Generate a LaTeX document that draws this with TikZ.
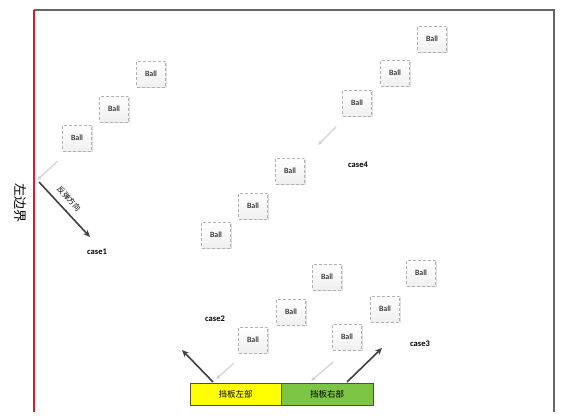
\documentclass[tikz,border=0pt]{standalone}
\usepackage{fontspec}
\setmainfont{Carlito}
\newfontfamily\cjk{Noto Sans CJK SC}
\usetikzlibrary{arrows.meta,shadows}
\definecolor{darkarrow}{HTML}{404040}
\definecolor{framegray}{HTML}{666666}
\definecolor{borderred}{HTML}{D42020}
\definecolor{boardyellow}{HTML}{FFFF00}
\definecolor{boardgreen}{HTML}{7CC444}
\tikzset{
  ball/.style={draw=gray!60, densely dashed, line width=0.5pt, top color=white, bottom color=gray!12,
    minimum width=29pt, minimum height=26pt, inner sep=0pt, font=\fontsize{8}{9}\selectfont,
    drop shadow={shadow xshift=1pt, shadow yshift=-1pt, opacity=0.25}},
  caselabel/.style={font=\bfseries\fontsize{8.5}{10}\selectfont},
  bounce/.style={draw=darkarrow, line width=1.6pt, -{Stealth[length=7pt,width=6pt]}},
  incoming/.style={draw=gray!35, line width=1.2pt, -{Stealth[length=5pt,width=4pt,fill=gray!70]}},
  board/.style={draw=gray!60!black, line width=0.5pt, minimum height=22pt, inner sep=0pt,
    font=\cjk\fontsize{8.5}{10}\selectfont}
}
\begin{document}
\begin{tikzpicture}[x=1pt,y=-1pt]
\useasboundingbox (0,0) rectangle (567,419);
% frame
\coordinate (tl) at (34,10);
\coordinate (tr) at (554,10);
\coordinate (br) at (554,412);
\coordinate (bl) at (34,412);
\draw[framegray, line width=1.4pt] (tl) -- (tr) -- (br);
\draw[borderred, line width=1.6pt] (tl) -- (bl);
\node[font=\cjk\fontsize{13}{14}\selectfont, rotate=-90] (lb) at (20,203) {左边界};

% case1
\node[ball] (b11) at (151,74) {Ball};
\node[ball] (b12) at (114,109) {Ball};
\node[ball] (b13) at (77,138) {Ball};
\coordinate (c1s) at (58,161);
\coordinate (c1h) at (37,180);
\coordinate (c1o) at (39,182);
\coordinate (c1e) at (90,237);
\draw[bounce] (c1o) -- (c1e);
\draw[incoming] (c1s) -- (c1h);
\node[font=\cjk\fontsize{7.5}{9}\selectfont, rotate=-47, inner sep=0pt] (fx) at (69,199) {反弹方向};
\node[caselabel] (case1) at (97,252) {case1};

% case4
\node[ball] (b41) at (432,39) {Ball};
\node[ball] (b42) at (395,73) {Ball};
\node[ball] (b43) at (357,103) {Ball};
\coordinate (c4s) at (336,127);
\coordinate (c4e) at (318,145);
\draw[incoming] (c4s) -- (c4e);
\node[caselabel] (case4) at (358,165) {case4};
\node[ball] (b44) at (290,171) {Ball};
\node[ball] (b45) at (253,206) {Ball};
\node[ball] (b46) at (216,235) {Ball};

% case2 / case3
\node[ball] (b21) at (327,277) {Ball};
\node[ball] (b22) at (291,312) {Ball};
\node[ball] (b23) at (253,340) {Ball};
\node[ball] (b31) at (421,273) {Ball};
\node[ball] (b32) at (385,309) {Ball};
\node[ball] (b33) at (347,337) {Ball};
\node[caselabel] (case2) at (215,319) {case2};
\node[caselabel] (case3) at (420,344) {case3};

% board
\node[board, fill=boardyellow, minimum width=91pt] (bL) at (235.5,394) {挡板左部};
\node[board, fill=boardgreen, minimum width=92pt] (bR) at (327,394) {挡板右部};

\coordinate (c2s) at (234,363);
\coordinate (c2h) at (216,379);
\coordinate (c2o) at (213,382);
\coordinate (c2e) at (182,350);
\draw[incoming] (c2s) -- (c2h);
\draw[bounce] (c2o) -- (c2e);

\coordinate (c3s) at (333,362);
\coordinate (c3h) at (311,381);
\coordinate (c3o) at (347,382);
\coordinate (c3e) at (382,348);
\draw[incoming] (c3s) -- (c3h);
\draw[bounce] (c3o) -- (c3e);
\end{tikzpicture}
\end{document}
